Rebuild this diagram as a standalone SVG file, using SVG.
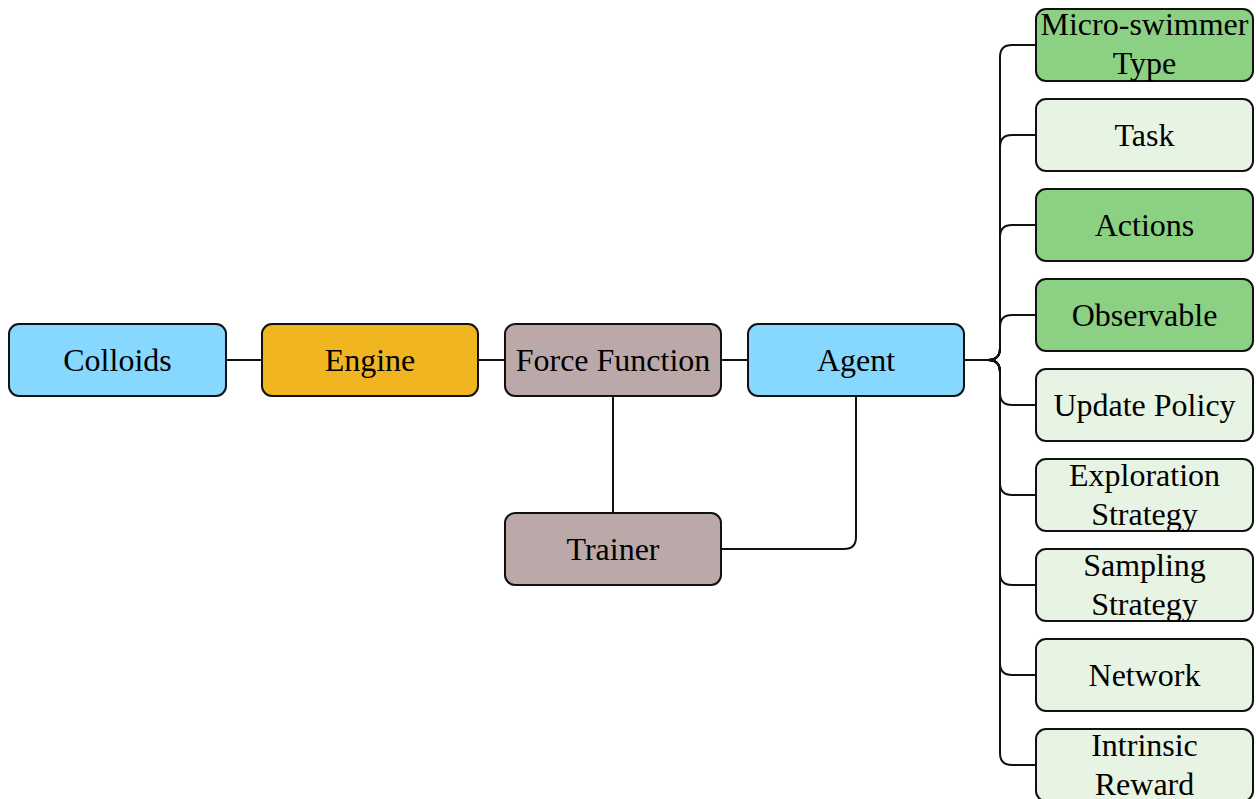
<svg xmlns="http://www.w3.org/2000/svg" width="1256" height="799" viewBox="0 0 1256 799">
<style>
.n rect{stroke:#111;stroke-width:2}
.n text{font-family:"Liberation Serif","Times New Roman",serif;font-size:32px;fill:#000;text-anchor:middle}
.blue{fill:#87D8FE}.orange{fill:#F2B522}.mauve{fill:#BBA9AA}.dg{fill:#8BD083}.lg{fill:#E7F3E3}
#connectors path{fill:none;stroke:#111;stroke-width:2}
</style>
<rect width="1256" height="799" fill="#fff"/>
<g id="connectors">
<path d="M226 360H262"/>
<path d="M478 360H505"/>
<path d="M721 360H748"/>
<path d="M613 396V513"/>
<path d="M856 396V537Q856 549 844 549H721"/>
<path d="M964 360H988Q1000 360 1000 348V57Q1000 45 1012 45H1036"/>
<path d="M988 360Q1000 360 1000 348V147Q1000 135 1012 135H1036"/>
<path d="M988 360Q1000 360 1000 348V237Q1000 225 1012 225H1036"/>
<path d="M988 360Q1000 360 1000 348V327Q1000 315 1012 315H1036"/>
<path d="M964 360H988Q1000 360 1000 372V393Q1000 405 1012 405H1036"/>
<path d="M988 360Q1000 360 1000 372V483Q1000 495 1012 495H1036"/>
<path d="M988 360Q1000 360 1000 372V573Q1000 585 1012 585H1036"/>
<path d="M988 360Q1000 360 1000 372V663Q1000 675 1012 675H1036"/>
<path d="M988 360Q1000 360 1000 372V753Q1000 765 1012 765H1036"/>
</g>
<g id="colloids" class="n"><rect class="blue" x="9" y="324" width="217" height="72" rx="10"/><text x="117.5" y="371">Colloids</text></g>
<g id="engine" class="n"><rect class="orange" x="262" y="324" width="216" height="72" rx="10"/><text x="370" y="371">Engine</text></g>
<g id="force-function" class="n"><rect class="mauve" x="505" y="324" width="216" height="72" rx="10"/><text x="613" y="371">Force Function</text></g>
<g id="agent" class="n"><rect class="blue" x="748" y="324" width="216" height="72" rx="10"/><text x="856" y="371">Agent</text></g>
<g id="trainer" class="n"><rect class="mauve" x="505" y="513" width="216" height="72" rx="10"/><text x="613" y="560">Trainer</text></g>
<g id="micro-swimmer-type" class="n"><rect class="dg" x="1036" y="9" width="217" height="72" rx="10"/><text x="1144.5" y="35">Micro-swimmer</text><text x="1144.5" y="74">Type</text></g>
<g id="task" class="n"><rect class="lg" x="1036" y="99" width="217" height="72" rx="10"/><text x="1144.5" y="146">Task</text></g>
<g id="actions" class="n"><rect class="dg" x="1036" y="189" width="217" height="72" rx="10"/><text x="1144.5" y="236">Actions</text></g>
<g id="observable" class="n"><rect class="dg" x="1036" y="279" width="217" height="72" rx="10"/><text x="1144.5" y="326">Observable</text></g>
<g id="update-policy" class="n"><rect class="lg" x="1036" y="369" width="217" height="72" rx="10"/><text x="1144.5" y="416">Update Policy</text></g>
<g id="exploration-strategy" class="n"><rect class="lg" x="1036" y="459" width="217" height="72" rx="10"/><text x="1144.5" y="486">Exploration</text><text x="1144.5" y="525">Strategy</text></g>
<g id="sampling-strategy" class="n"><rect class="lg" x="1036" y="549" width="217" height="72" rx="10"/><text x="1144.5" y="576">Sampling</text><text x="1144.5" y="615">Strategy</text></g>
<g id="network" class="n"><rect class="lg" x="1036" y="639" width="217" height="72" rx="10"/><text x="1144.5" y="686">Network</text></g>
<g id="intrinsic-reward" class="n"><rect class="lg" x="1036" y="729" width="217" height="72" rx="10"/><text x="1144.5" y="756">Intrinsic</text><text x="1144.5" y="795">Reward</text></g>
</svg>
